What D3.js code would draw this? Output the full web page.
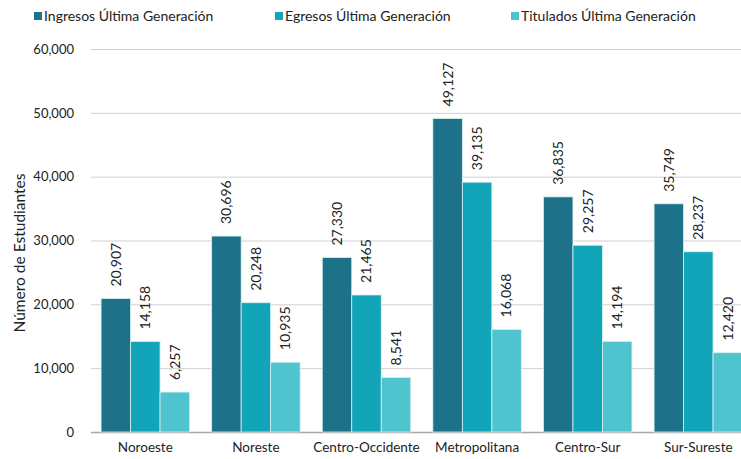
<!DOCTYPE html>
<html><head><meta charset="utf-8">
<script src="https://cdn.jsdelivr.net/npm/d3@7"></script>
<style>body{margin:0;background:#fff}svg{display:block}text{font-family:Lato,"Noto Sans",sans-serif;fill:#222}</style>
</head><body><div id="chart"></div>
<script>
const categories = ["Noroeste","Noreste","Centro-Occidente","Metropolitana","Centro-Sur","Sur-Sureste"];
const seriesNames = ["Ingresos Última Generación","Egresos Última Generación","Titulados Última Generación"];
const ingresos = [20907,30696,27330,49127,36835,35749];
const egresos = [14158,20248,21465,39135,29257,28237];
const titulados = [6257,10935,8541,16068,14194,12420];
const yTicks = [0,10000,20000,30000,40000,50000,60000];
const colors = ["#1d728a","#12a4b8","#4fc4ce"];

const W=741,H=459;
const svg=d3.select("#chart").append("svg").attr("width",W).attr("height",H);
const series=[ingresos,egresos,titulados];
const x0=d3.scaleBand().domain(categories).range([90,753.6]).paddingInner(0.2).paddingOuter(0.1);
const x1=d3.scaleBand().domain(d3.range(3)).range([0,x0.bandwidth()]);
const y=d3.scaleLinear().domain([0,60000]).range([432,49]);
const fmt=d3.format(",");

// y axis
const yAxis=d3.axisLeft(y).tickValues(yTicks).tickFormat(fmt).tickSize(0).tickPadding(0);
const ga=svg.append("g").attr("transform","translate(74,0)").call(yAxis);
ga.select(".domain").remove();
ga.selectAll("text").style("font-size","13px").attr("fill","#222").attr("x",0);
svg.append("g").selectAll("line").data(yTicks).join("line")
  .attr("x1",91).attr("x2",741).attr("y1",d=>y(d)+0.5).attr("y2",d=>y(d)+0.5)
  .attr("stroke",d=>d===0?"#a8a8a8":"#cfcfcf").attr("stroke-width",d=>d===0?1.5:1);

// bars
const g=svg.append("g");
categories.forEach((c,i)=>{
  series.forEach((s,j)=>{
    const bx=x0(c)+x1(j), bw=x1.bandwidth(), v=s[i];
    g.append("rect").attr("x",bx).attr("y",y(v)).attr("width",bw).attr("height",y(0)-y(v))
      .attr("fill",colors[j]).attr("stroke","#d8f0f3").attr("stroke-width",0.8);
    g.append("text").attr("transform",`translate(${bx+bw/2},${y(v)-12}) rotate(-90)`)
      .attr("dy","0.35em").attr("text-anchor","start").style("font-size","14px").text(fmt(v));
  });
});

// x axis labels
const xa=d3.axisBottom(x0).tickSize(0).tickPadding(0);
const gx=svg.append("g").attr("transform","translate(0,442)").call(xa);
gx.select(".domain").remove();
gx.selectAll("text").style("font-size","13.5px").attr("fill","#222").attr("dy","0.71em");

// y axis title
svg.append("text").attr("transform","translate(25,253) rotate(-90)").attr("text-anchor","middle")
  .style("font-size","15.5px").text("Número de Estudiantes");

// legend
const legX=[34,275,511];
seriesNames.forEach((n,j)=>{
  svg.append("rect").attr("x",legX[j]).attr("y",12).attr("width",8).attr("height",8).attr("fill",colors[j]);
  svg.append("text").attr("x",legX[j]+10).attr("y",16).attr("dy","0.35em").style("font-size","14px").text(n);
});
</script></body></html>
